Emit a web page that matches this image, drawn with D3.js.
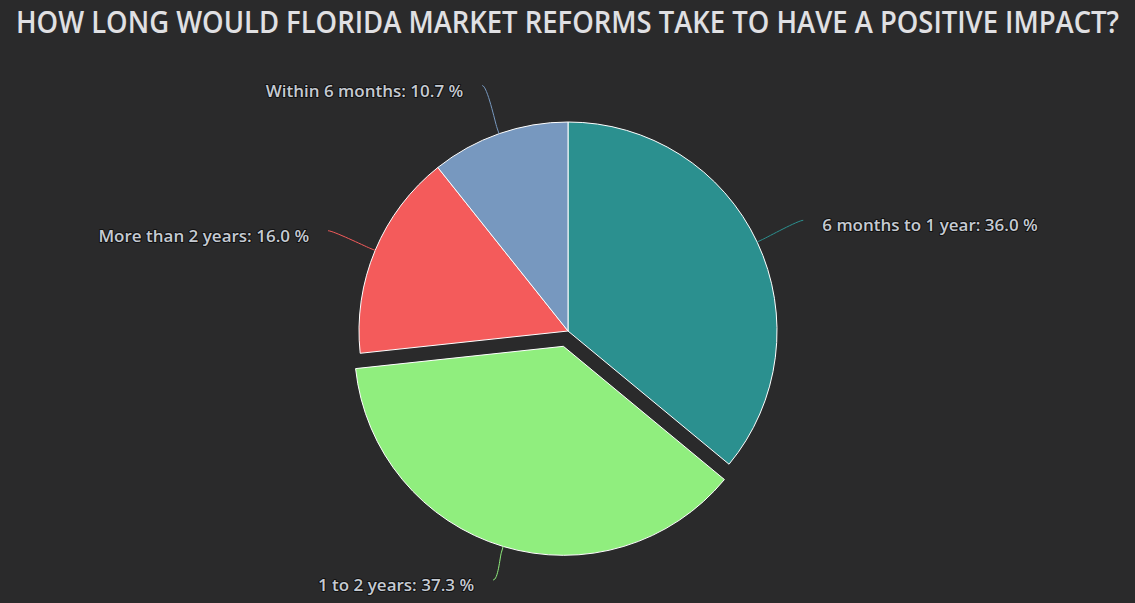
<!DOCTYPE html>
<html>
<head>
<meta charset="utf-8">
<script src="https://cdn.jsdelivr.net/npm/d3@7"></script>
<style>
  html, body { margin: 0; padding: 0; background: #2a2a2b; }
  svg { display: block; }
</style>
</head>
<body>
<svg id="pie_chart" width="1135" height="603"></svg>
<script>
// data
title_text = "HOW LONG WOULD FLORIDA MARKET REFORMS TAKE TO HAVE A POSITIVE IMPACT?";
categories = ["6 months to 1 year", "1 to 2 years", "More than 2 years", "Within 6 months"];
values = [36.0, 37.3, 16.0, 10.7];
sliced = [false, true, false, false];
colors = ["#2b908f", "#90ee7e", "#f45b5b", "#7798bf"];

var svg = d3.select("#pie_chart");
var width = +svg.attr("width"), height = +svg.attr("height");
var cx = 568, cy = 331, radius = 209;
var slicedOffset = 16, labelDist = 51, breakDist = 6, labelGap = 19;

// title (stretched a bit to match the wide heading)
svg.append("g")
    .attr("transform", "translate(" + (width / 2) + ",33) scale(1.055,1.16)")
    .append("text")
    .attr("x", 0)
    .attr("y", 0)
    .attr("text-anchor", "middle")
    .attr("fill", "#e0e0e3")
    .style("font-family", "'Open Sans', sans-serif")
    .style("font-size", "26px")
    .style("font-weight", 600)
    .text(title_text);

var pieFn = d3.pie().sort(null).value(function(d){ return d.value; });
var data = categories.map(function(c, i){
    return {name: c, value: values[i], sliced: sliced[i], color: colors[i]};
});
var arcs = pieFn(data);
var arcFn = d3.arc().innerRadius(0).outerRadius(radius);

function polar(a, r){ return [Math.sin(a) * r, -Math.cos(a) * r]; }

var g = svg.append("g").attr("transform", "translate(" + cx + "," + cy + ")");

// slices
g.selectAll(".slice")
    .data(arcs)
    .enter().append("path")
    .attr("class", "slice")
    .attr("d", arcFn)
    .attr("transform", function(d){
        if (!d.data.sliced) return null;
        var p = polar((d.startAngle + d.endAngle) / 2, slicedOffset);
        return "translate(" + p[0] + "," + p[1] + ")";
    })
    .attr("fill", function(d){ return d.data.color; })
    .attr("stroke", "#ffffff")
    .attr("stroke-width", 1)
    .attr("stroke-linejoin", "round");

// connectors + labels
arcs.forEach(function(d){
    var mid = (d.startAngle + d.endAngle) / 2;
    var off = d.data.sliced ? polar(mid, slicedOffset) : [0, 0];
    var touch = polar(mid, radius); touch = [touch[0] + off[0], touch[1] + off[1]];
    var brk = polar(mid, radius + breakDist); brk = [brk[0] + off[0], brk[1] + off[1]];
    var anchor = polar(mid, radius + labelDist);
    var right = Math.sin(mid) >= 0;

    var path = d3.path();
    path.moveTo(anchor[0], anchor[1]);
    path.bezierCurveTo(anchor[0] + (right ? -5 : 5), anchor[1],
        2 * brk[0] - touch[0], 2 * brk[1] - touch[1],
        brk[0], brk[1]);
    path.lineTo(touch[0], touch[1]);

    g.append("path")
        .attr("d", path.toString())
        .attr("fill", "none")
        .attr("stroke", d.data.color)
        .attr("stroke-width", 1);

    var label = d.data.name + ": " + d3.format(".1f")(d.data.value) + " %";
    g.append("text")
        .attr("x", anchor[0] + (right ? labelGap : -labelGap))
        .attr("y", anchor[1] + 11)
        .attr("text-anchor", right ? "start" : "end")
        .attr("fill", "#c5cad2")
        .attr("stroke", "#111111")
        .attr("stroke-width", 2)
        .attr("stroke-linejoin", "round")
        .attr("paint-order", "stroke")
        .style("font-family", "'Open Sans', sans-serif")
        .style("font-size", "17px")
        .style("font-weight", 600)
        .text(label);
});
</script>
</body>
</html>
